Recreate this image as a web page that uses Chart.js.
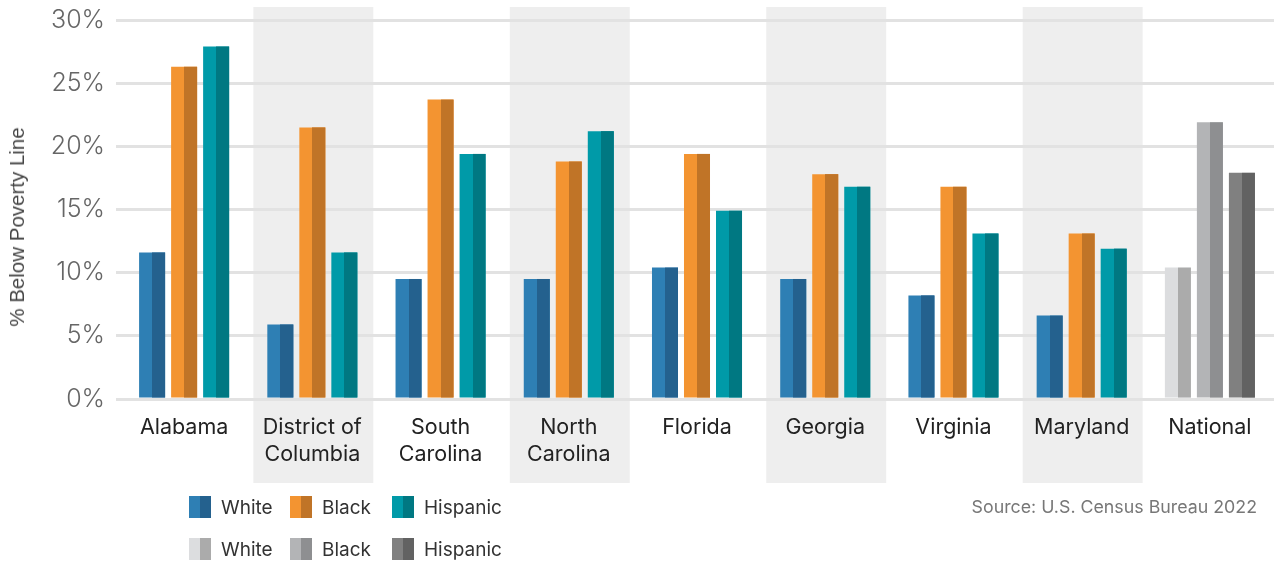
<!DOCTYPE html>
<html>
<head>
<meta charset="utf-8">
<script src="https://cdn.jsdelivr.net/npm/chart.js@4"></script>
<style>
  html, body { margin: 0; padding: 0; background: #fff; }
  #wrap { position: relative; width: 1274px; height: 565px; font-family: Inter, "Noto Sans", sans-serif; }
  #c { position: absolute; left: 0; top: 0; }
  .leg { position: absolute; display: flex; align-items: center; font-size: 19px; color: #333; height: 22px; }
  .sw { width: 22px; height: 22px; margin-right: 10px; }
  #src { position: absolute; right: 17px; top: 496px; font-size: 17.8px; color: #777; line-height: 22px; }
  #ytitle { position: absolute; left: 17px; top: 227px; font-family: "Liberation Sans", Arial, sans-serif; font-size: 20.5px; color: #444;
            transform: translate(-50%, -50%) rotate(-90deg); white-space: nowrap; }
</style>
</head>
<body>
<div id="wrap">
  <canvas id="c" width="1274" height="565"></canvas>
  <div id="ytitle">% Below Poverty Line</div>
  <div id="legend"></div>
  <div id="src">Source: U.S. Census Bureau 2022</div>
</div>
<script>
const categories = [
  'Alabama', ['District of', 'Columbia'], ['South', 'Carolina'], ['North', 'Carolina'],
  'Florida', 'Georgia', 'Virginia', 'Maryland', 'National'
];
const white    = [11.6, 5.9, 9.5, 9.5, 10.4, 9.5, 8.2, 6.6, 10.4];
const black    = [26.3, 21.5, 23.7, 18.8, 19.4, 17.8, 16.8, 13.1, 21.9];
const hispanic = [27.9, 11.6, 19.4, 21.2, 14.9, 16.8, 13.1, 11.9, 17.9];
const yTicks = [0, 5, 10, 15, 20, 25, 30];
const shadedIndices = [1, 3, 5, 7];
const nationalIndex = 8;

const palette = {
  White:    { light: '#2e7fb4', dark: '#24618e', nLight: '#dcdddf', nDark: '#ababab' },
  Black:    { light: '#f39431', dark: '#c07427', nLight: '#b3b4b6', nDark: '#8e8f91' },
  Hispanic: { light: '#009aa8', dark: '#007882', nLight: '#808080', nDark: '#626262' }
};

function colorsFor(name, key, nKey) {
  return categories.map((_, i) => i === nationalIndex ? palette[name][nKey] : palette[name][key]);
}

const series = [['White', white], ['Black', black], ['Hispanic', hispanic]];
const datasets = series.map(([name, data]) => ({
  label: name,
  data: data,
  backgroundColor: colorsFor(name, 'light', 'nLight'),
  darkColor: colorsFor(name, 'dark', 'nDark'),
  borderWidth: 0,
  barPercentage: 0.8125,
  categoryPercentage: 0.749
}));

const bandPlugin = {
  id: 'bands',
  beforeDraw(chart) {
    const ctx = chart.ctx, x = chart.scales.x;
    const w = (x.getPixelForValue(1) - x.getPixelForValue(0)) * 0.935;
    ctx.save();
    ctx.fillStyle = '#eeeeee';
    shadedIndices.forEach(i => {
      const cx = x.getPixelForValue(i) + 1;
      ctx.fillRect(cx - w / 2, 7, w, 476);
    });
    ctx.restore();
  }
};

const twoTonePlugin = {
  id: 'twoTone',
  afterDatasetsDraw(chart) {
    const ctx = chart.ctx;
    ctx.save();
    chart.data.datasets.forEach((ds, di) => {
      const meta = chart.getDatasetMeta(di);
      meta.data.forEach((el, i) => {
        const p = el.getProps(['x', 'y', 'base', 'width'], true);
        ctx.fillStyle = ds.darkColor[i];
        const xm = Math.round(p.x);
        ctx.fillRect(xm, p.y, p.x + p.width / 2 - xm, p.base - p.y);
      });
    });
    ctx.restore();
  }
};

new Chart(document.getElementById('c'), {
  type: 'bar',
  data: { labels: categories, datasets },
  plugins: [bandPlugin, twoTonePlugin],
  options: {
    responsive: false,
    animation: false,
    devicePixelRatio: 1,
    layout: { padding: { top: 20, right: 0, left: 0, bottom: 0 } },
    plugins: { legend: { display: false }, tooltip: { enabled: false } },
    scales: {
      x: {
        grid: { display: false },
        border: { display: false },
        ticks: {
          color: '#222',
          font: { family: 'Inter', size: 21.5, lineHeight: 1.25 },
          padding: 7,
          maxRotation: 0,
          autoSkip: false
        },
        afterFit(scale) { scale.height = 166; }
      },
      y: {
        min: 0, max: 30,
        afterBuildTicks(scale) { scale.ticks = yTicks.map(v => ({ value: v })); },
        grid: { color: '#e2e2e2', lineWidth: 3, tickLength: 4 },
        border: { display: false },
        ticks: {
          color: '#666',
          font: { family: 'Inter', size: 25, weight: 300 },
          padding: 11,
          callback: v => v + '%'
        },
        afterFit(scale) { scale.width = 120; scale.paddingTop = 0; scale.paddingBottom = 0; }
      }
    }
  }
});

// HTML legend
const legendRows = [
  { top: 496, key: ['light', 'dark'] },
  { top: 538, key: ['nLight', 'nDark'] }
];
const legendLefts = [189, 290, 392];
const legendEl = document.getElementById('legend');
legendRows.forEach(row => {
  series.forEach(([name], j) => {
    const d = document.createElement('div');
    d.className = 'leg';
    d.style.left = legendLefts[j] + 'px';
    d.style.top = row.top + 'px';
    const sw = document.createElement('div');
    sw.className = 'sw';
    const c1 = palette[name][row.key[0]], c2 = palette[name][row.key[1]];
    sw.style.background = `linear-gradient(to right, ${c1} 50%, ${c2} 50%)`;
    const t = document.createElement('span');
    t.textContent = name;
    d.appendChild(sw); d.appendChild(t);
    legendEl.appendChild(d);
  });
});
</script>
</body>
</html>
